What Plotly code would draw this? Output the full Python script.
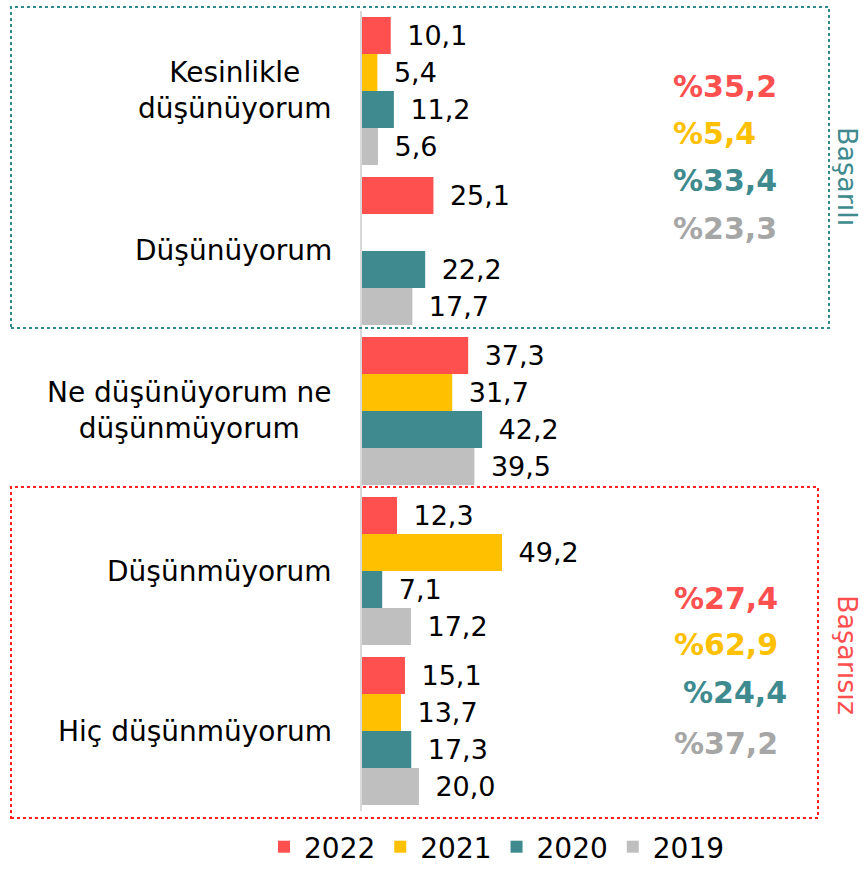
import plotly.graph_objects as go

W, H = 866, 872

categories = ["Kesinlikle düşünüyorum", "Düşünüyorum", "Ne düşünüyorum ne düşünmüyorum",
              "Düşünmüyorum", "Hiç düşünmüyorum"]
category_labels = ["Kesinlikle<br>düşünüyorum", "Düşünüyorum", "Ne düşünüyorum ne<br>düşünmüyorum",
                   "Düşünmüyorum", "Hiç düşünmüyorum"]
years = ["2022", "2021", "2020", "2019"]
v2022 = [10.1, 25.1, 37.3, 12.3, 15.1]
v2021 = [5.4, None, 31.7, 49.2, 13.7]
v2020 = [11.2, 22.2, 42.2, 7.1, 17.3]
v2019 = [5.6, 17.7, 39.5, 17.2, 20.0]
success_totals = [35.2, 5.4, 33.4, 23.3]
fail_totals = [27.4, 62.9, 24.4, 37.2]

series = [v2022, v2021, v2020, v2019]
colors = ["#FF5050", "#FFC000", "#3E8A8E", "#BFBFBF"]
total_colors = ["#FF5050", "#FFC000", "#3E8A8E", "#A6A6A6"]
FONT = "DejaVu Sans, Verdana, sans-serif"

def fmt(v):
    return "" if v is None else "\u2002" + f"{v:.1f}".replace(".", ",")

def px(x):
    return x / W

def py(y):
    return 1 - y / H

fig = go.Figure()
for name, vals, c in zip(years, series, colors):
    fig.add_trace(go.Bar(
        y=categories, x=vals, name=name, orientation="h",
        marker=dict(color=c, line=dict(width=0)),
        text=[fmt(v) for v in vals], textposition="outside",
        textfont=dict(family=FONT, size=27, color="#000000"),
        constraintext="none", cliponaxis=False, hoverinfo="skip",
    ))

x0_px = 362
scale = 2.846  # px per unit
xmax = (W - x0_px) / scale

annotations = []
for cat, lab in zip(categories, category_labels):
    annotations.append(dict(xref="paper", yref="y", x=px(334), y=cat, text=lab,
                            xanchor="right", yanchor="middle", align="center", showarrow=False,
                            font=dict(family=FONT, size=28, color="#000000")))

succ_y = [87, 133, 180, 228]
fail_y = [598, 644, 692, 743]
fail_x = [673, 673, 682, 673]
for v, c, yy in zip(success_totals, total_colors, succ_y):
    annotations.append(dict(xref="paper", yref="paper", x=px(671), y=py(yy),
                            text="<b>%" + f"{v:.1f}".replace(".", ",") + "</b>",
                            xanchor="left", yanchor="middle", showarrow=False,
                            font=dict(family=FONT, size=30, color=c)))
for v, c, yy, xx in zip(fail_totals, total_colors, fail_y, fail_x):
    annotations.append(dict(xref="paper", yref="paper", x=px(xx - 1), y=py(yy),
                            text="<b>%" + f"{v:.1f}".replace(".", ",") + "</b>",
                            xanchor="left", yanchor="middle", showarrow=False,
                            font=dict(family=FONT, size=30, color=c)))

annotations.append(dict(xref="paper", yref="paper", x=px(848), y=py(176), text="Başarılı",
                        textangle=90, xanchor="center", yanchor="middle", showarrow=False,
                        font=dict(family=FONT, size=27, color="#3E8A8E")))
annotations.append(dict(xref="paper", yref="paper", x=px(848), y=py(655), text="Başarısız",
                        textangle=90, xanchor="center", yanchor="middle", showarrow=False,
                        font=dict(family=FONT, size=27, color="#FF5050")))

shapes = [
    dict(type="rect", xref="paper", yref="paper", x0=px(11), x1=px(829), y0=py(328), y1=py(7),
         line=dict(color="#2E8B8B", width=2, dash="dot")),
    dict(type="rect", xref="paper", yref="paper", x0=px(11), x1=px(818), y0=py(818), y1=py(487),
         line=dict(color="#FF2020", width=2, dash="dot")),
]

fig.update_layout(
    width=W, height=H,
    margin=dict(l=0, r=0, t=0, b=0, autoexpand=False),
    paper_bgcolor="white", plot_bgcolor="white",
    barmode="group", bargap=0.075, bargroupgap=0,
    font=dict(family=FONT, size=28, color="#000000"),
    xaxis=dict(domain=[px(x0_px), 1], range=[0, xmax], visible=False, fixedrange=True),
    yaxis=dict(domain=[py(811), py(11)], autorange="reversed", showticklabels=False,
               showline=True, linecolor="#D9D9D9", linewidth=2, ticks="", showgrid=False,
               zeroline=False, fixedrange=True),
    legend=dict(orientation="h", x=px(497), xanchor="center", y=0, yanchor="bottom",
                font=dict(family=FONT, size=28, color="#000000"), traceorder="normal",
                itemsizing="constant", bgcolor="rgba(0,0,0,0)"),
    annotations=annotations, shapes=shapes, showlegend=True,
)

fig.write_html("out.html", config={"displayModeBar": False},
               post_script="document.body.style.margin='0';document.body.style.overflow='hidden';")
